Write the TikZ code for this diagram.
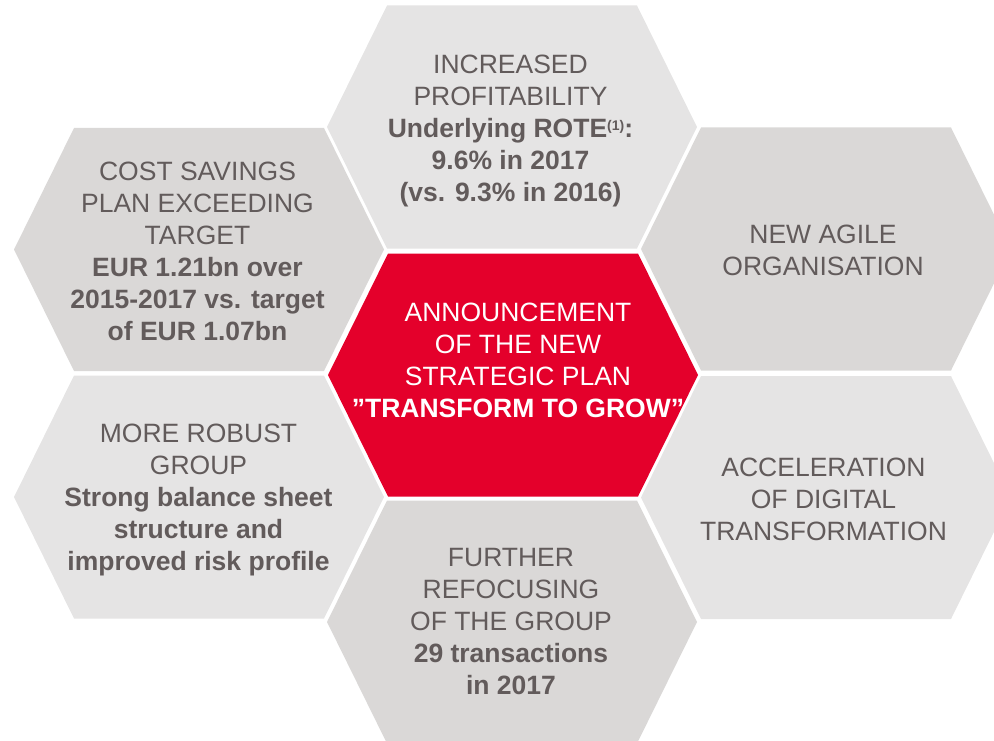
\documentclass[tikz,border=0pt]{standalone}
\usepackage{fontspec}
\setmainfont{Liberation Sans}
\definecolor{hexlight}{RGB}{229,228,228}
\definecolor{hexdark}{RGB}{218,216,215}
\definecolor{hexred}{RGB}{228,0,43}
\definecolor{txtgray}{RGB}{98,91,91}
\newcommand\hexat[3]{\fill[#3] (#1-185,#2) -- (#1-125,#2-121.5) -- (#1+125,#2-121.5) -- (#1+185,#2) -- (#1+125,#2+121.5) -- (#1-125,#2+121.5) -- cycle;}
\newcommand\supone{\raisebox{7pt}{\fontsize{14}{14}\selectfont(1)}}
\begin{document}
\begin{tikzpicture}[x=1pt,y=-1pt,
  hexlabel/.style={align=center, inner sep=0pt, text=txtgray, font=\fontsize{26.5}{32}\selectfont},
  redlabel/.style={hexlabel, text=white}]
\useasboundingbox (0,0) rectangle (994,741);
% hexagons
\hexat{512}{127}{hexlight}
\hexat{199}{249.5}{hexdark}
\hexat{826}{249}{hexdark}
\hexat{513}{375}{hexred}
\hexat{199}{497}{hexlight}
\hexat{826}{497.5}{hexlight}
\hexat{512}{622}{hexdark}
% labels
\node[hexlabel] (top) at (510.5,130.6) {\strut INCREASED\\\strut PROFITABILITY\\\strut\textbf{Underlying ROTE\supone:}\\\strut\textbf{9.6\% in 2017}\\\strut\textbf{(vs. 9.3\% in 2016)}};
\node[hexlabel] (ul) at (197.5,253.6) {\strut COST SAVINGS\\\strut PLAN EXCEEDING\\\strut TARGET\\\strut\textbf{EUR 1.21bn over}\\\strut\textbf{2015-2017 vs. target}\\\strut\textbf{of EUR 1.07bn}};
\node[hexlabel] (ur) at (823,253.1) {\strut NEW AGILE\\\strut ORGANISATION};
\node[redlabel] (mid) at (518,362.6) {\strut ANNOUNCEMENT\\\strut OF THE NEW\\\strut STRATEGIC PLAN\\\strut\textbf{”TRANSFORM TO GROW”}};
\node[hexlabel] (ll) at (198.5,499.6) {\strut MORE ROBUST\\\strut GROUP\\\strut\textbf{Strong balance sheet}\\\strut\textbf{structure and}\\\strut\textbf{improved risk profile}};
\node[hexlabel] (lr) at (823.5,501.6) {\strut ACCELERATION\\\strut OF DIGITAL\\\strut TRANSFORMATION};
\node[hexlabel] (bot) at (511,624.1) {\strut FURTHER\\\strut REFOCUSING\\\strut OF THE GROUP\\\strut\textbf{29 transactions}\\\strut\textbf{in 2017}};
\end{tikzpicture}
\end{document}
